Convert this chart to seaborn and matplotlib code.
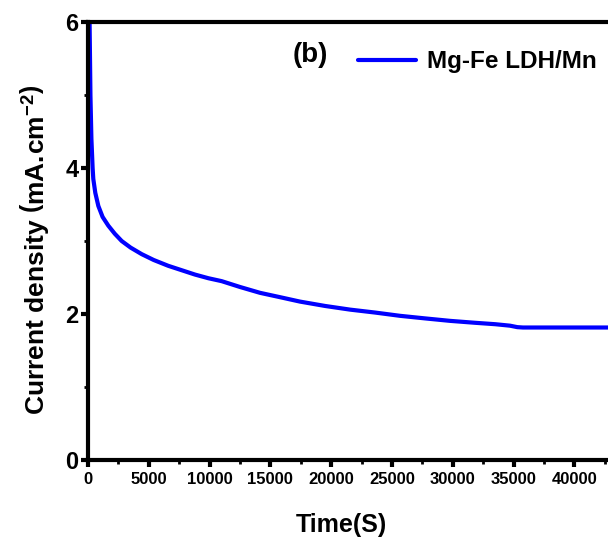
import numpy as np
import pandas as pd
import matplotlib
matplotlib.use("Agg")
import matplotlib.pyplot as plt
from matplotlib.ticker import MultipleLocator
import seaborn as sns

# chronoamperometry curve
time_s = [100, 130, 200, 280, 380, 436, 600, 850, 1200, 1670, 2200, 2770,
          3500, 4415, 5400, 6600, 7700, 8800, 9900, 10990, 12500, 14145,
          15800, 17430, 19500, 21550, 23600, 25660, 27700, 29770, 31800,
          33500, 34700, 35300, 35770, 37500, 40000, 42800]
current = [6.3, 6.0, 5.0, 4.4, 4.0, 3.85, 3.66, 3.48, 3.33, 3.21, 3.10, 3.00,
           2.91, 2.82, 2.74, 2.66, 2.60, 2.54, 2.49, 2.45, 2.37, 2.29, 2.23,
           2.17, 2.11, 2.06, 2.02, 1.975, 1.94, 1.906, 1.88, 1.86, 1.84, 1.82,
           1.815, 1.815, 1.815, 1.815]
series_name = "Mg-Fe LDH/Mn"
panel_tag = "(b)"

df = pd.DataFrame({"Time": time_s, "Current": current, "Sample": series_name})

sns.set_style("ticks")
plt.rcParams['font.family'] = ['Liberation Sans', 'DejaVu Sans']
plt.rcParams['font.weight'] = 'bold'
plt.rcParams['text.color'] = 'black'
plt.rcParams['axes.labelcolor'] = 'black'
plt.rcParams['xtick.color'] = 'black'
plt.rcParams['ytick.color'] = 'black'
plt.rcParams['mathtext.fontset'] = 'custom'
plt.rcParams['mathtext.rm'] = 'Liberation Sans:bold'
plt.rcParams['mathtext.bf'] = 'Liberation Sans:bold'
plt.rcParams['mathtext.default'] = 'rm'

fig = plt.figure(figsize=(6.08, 5.42), dpi=100)
ax = fig.add_axes([88 / 608, 82 / 542, 1 - 88 / 608, 438 / 542])

sns.lineplot(data=df, x="Time", y="Current", hue="Sample", palette=["#0000ff"],
             linewidth=3, ax=ax, legend=True)

ax.set_xlim(0, 42760)
ax.set_ylim(0, 6)
ax.xaxis.set_major_locator(MultipleLocator(5000))
ax.xaxis.set_minor_locator(MultipleLocator(2500))
ax.yaxis.set_major_locator(MultipleLocator(2))
ax.yaxis.set_minor_locator(MultipleLocator(1))

for side in ["left", "top", "bottom"]:
    ax.spines[side].set_linewidth(3)
    ax.spines[side].set_color("black")
ax.spines["right"].set_visible(False)

ax.tick_params(axis="both", which="major", direction="out", length=5, width=3,
               color="black", labelcolor="black")
ax.tick_params(axis="both", which="minor", direction="out", length=3, width=2,
               color="black")
ax.tick_params(axis="x", labelsize=12, pad=4)
ax.tick_params(axis="y", labelsize=17, pad=2)
for lbl in ax.get_xticklabels() + ax.get_yticklabels():
    lbl.set_fontweight("bold")

ax.set_xlabel("Time(S)", fontsize=18, fontweight="bold")
ax.xaxis.set_label_coords((341 - 88) / (608 - 88), -(513 - 460) / 438)
ax.set_ylabel(r"Current density $\left(\mathrm{mA.\!cm^{-2}}\right)$",
              fontsize=19, fontweight="bold")
ax.yaxis.set_label_coords(-0.072, (460 - 250) / 438)

leg = ax.legend(loc="upper right", bbox_to_anchor=(1.02, 0.985), frameon=False,
                prop={"size": 17.5, "weight": "bold"}, handlelength=2.4,
                handletextpad=0.45)
for h in leg.get_lines():
    h.set_linewidth(3)

ax.text(0.428, 0.925, panel_tag, transform=ax.transAxes, fontsize=20,
        fontweight="bold", ha="center", va="center")

fig.savefig("out.png", dpi=100)
